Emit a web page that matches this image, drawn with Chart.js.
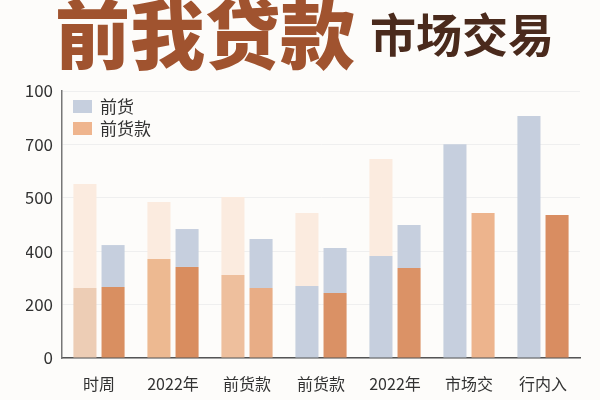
<!DOCTYPE html>
<html>
<head>
<meta charset="utf-8">
<script src="https://cdn.jsdelivr.net/npm/chart.js@4.4.0/dist/chart.umd.min.js"></script>
<style>
  html, body { margin: 0; padding: 0; background: #fdfcfa; }
  #wrap { position: relative; width: 600px; height: 400px; overflow: hidden; }
  #wrap canvas { position: absolute; left: 0; top: 0; }
  .title-big {
    position: absolute; left: 55px; top: -7px;
    font: 900 75px "Noto Sans CJK SC", sans-serif; line-height: 1;
    color: #a0532f; white-space: nowrap;
  }
  .title-small {
    position: absolute; left: 370px; top: 9px;
    font: 700 46px "Noto Sans CJK SC", sans-serif; line-height: 1;
    color: #4a2a1c; white-space: nowrap;
  }
</style>
</head>
<body>
<div id="wrap">
  <canvas id="chart" width="600" height="400"></canvas>
  <div class="title-big">前我贷款</div>
  <div class="title-small">市场交易</div>
</div>
<script>
// data
const categories = ['时周', '2022年', '前货款', '前货款', '2022年', '市场交', '行内入'];
const leftLower = [262, 371, 311, 270, 382, 801, 906];
const leftTotal = [652, 584, 603, 543, 745, 801, 906];
const rightLower = [266, 341, 262, 243, 337, 543, 536];
const rightTotal = [423, 483, 446, 412, 498, 543, 536];
const tickLabels = ['0', '200', '400', '500', '700', '100'];
const legendLabels = ['前货', '前货款'];

// colours per bar segment
const BLUE = '#c6cfde';
const PALE = '#fbebdf';
const leftLowerColors = ['#edcdb5', '#edb991', '#eebf9d', BLUE, BLUE, BLUE, BLUE];
const rightLowerColors = ['#d98f61', '#d98d5f', '#e8ad86', '#da9165', '#db9266', '#edb48d', '#d98d61'];
const legendColors = [BLUE, '#efb58e'];

const leftUpper = leftTotal.map((t, i) => t - leftLower[i]);
const rightUpper = rightTotal.map((t, i) => t - rightLower[i]);

const FONT = '"Noto Sans CJK SC", "Noto Sans", sans-serif';

const insideLegend = {
  id: 'insideLegend',
  afterDraw(chart) {
    const { ctx, chartArea } = chart;
    ctx.save();
    ctx.font = '17px ' + FONT;
    ctx.textBaseline = 'middle';
    legendLabels.forEach((label, i) => {
      const y = chartArea.top + 9 + i * 22;
      ctx.fillStyle = legendColors[i];
      ctx.fillRect(chartArea.left + 11, y, 19, 13);
      ctx.fillStyle = '#333';
      ctx.fillText(label, chartArea.left + 38, y + 7);
    });
    ctx.restore();
  }
};

const ctx = document.getElementById('chart').getContext('2d');
new Chart(ctx, {
  type: 'bar',
  data: {
    labels: categories,
    datasets: [
      { data: leftLower, stack: 'left', backgroundColor: leftLowerColors },
      { data: leftUpper, stack: 'left', backgroundColor: PALE },
      { data: rightLower, stack: 'right', backgroundColor: rightLowerColors },
      { data: rightUpper, stack: 'right', backgroundColor: BLUE }
    ]
  },
  options: {
    responsive: false,
    animation: false,
    categoryPercentage: 0.76,
    barPercentage: 0.82,
    layout: { padding: { top: 91, left: 26, right: 20, bottom: 0 } },
    plugins: {
      legend: { display: false },
      tooltip: { enabled: false }
    },
    scales: {
      x: {
        stacked: true,
        grid: { display: false },
        border: { color: '#555', width: 1.5 },
        ticks: { color: '#333', font: { family: FONT, size: 16 }, padding: 8 },
        afterFit: (scale) => { scale.height = 42; }
      },
      y: {
        stacked: true,
        min: 0,
        max: 1000,
        grid: { color: '#efefef', drawTicks: false },
        border: { color: '#777', width: 1.5 },
        ticks: {
          stepSize: 200,
          color: '#333',
          padding: 9,
          font: { family: FONT, size: 17 },
          callback: (v) => tickLabels[v / 200]
        },
        afterFit: (scale) => { scale.width = 36; }
      }
    }
  },
  plugins: [insideLegend]
});
</script>
</body>
</html>
